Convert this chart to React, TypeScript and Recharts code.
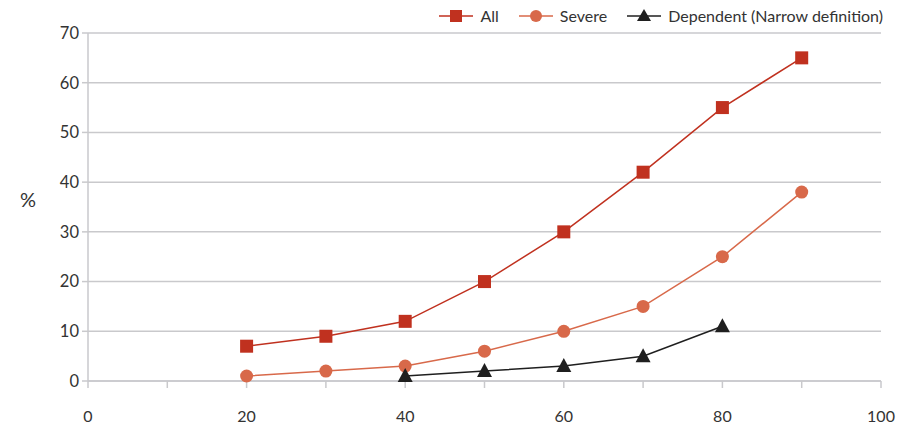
import React from 'react';
import { LineChart, Line, XAxis, YAxis, CartesianGrid, Label } from 'recharts';

const AGES = [20, 30, 40, 50, 60, 70, 80, 90];
const ALL = [7, 9, 12, 20, 30, 42, 55, 65];
const SEVERE = [1, 2, 3, 6, 10, 15, 25, 38];
const DEPENDENT = [null, null, 1, 2, 3, 5, 11, null];

const X_TICKS = [0, 10, 20, 30, 40, 50, 60, 70, 80, 90, 100];
const Y_TICKS = [0, 10, 20, 30, 40, 50, 60, 70];

const COLORS = {
  all: '#c0311f',
  severe: '#d8694a',
  dependent: '#1f1f1f',
  grid: '#c9c9cc',
  text: '#333333',
};

const FONT = 'Lato, "Noto Sans", sans-serif';

const data = AGES.map((age, i) => ({
  age,
  all: ALL[i],
  severe: SEVERE[i],
  dependent: DEPENDENT[i],
}));

const SquareDot = (props: any) => {
  const { cx, cy } = props;
  if (cx == null || cy == null) return null;
  return <rect x={cx - 6.5} y={cy - 6.5} width={13} height={13} fill={COLORS.all} />;
};

const CircleDot = (props: any) => {
  const { cx, cy } = props;
  if (cx == null || cy == null) return null;
  return <circle cx={cx} cy={cy} r={6.5} fill={COLORS.severe} />;
};

const TriangleDot = (props: any) => {
  const { cx, cy, value } = props;
  if (cx == null || cy == null || value == null) return null;
  return <path d={`M${cx},${cy - 8} L${cx + 7.5},${cy + 6} L${cx - 7.5},${cy + 6} Z`} fill={COLORS.dependent} />;
};

// labels only every 20, tick marks every 10
const XTick = (props: any) => {
  const { x, y, payload } = props;
  if (payload.value % 20 !== 0) return null;
  return (
    <text x={x} y={y} dy="0.71em" textAnchor="middle" fill={COLORS.text} fontSize={16} fontFamily={FONT}>
      {payload.value}
    </text>
  );
};

const legendItems = [
  { label: 'All', color: COLORS.all, marker: 'square' },
  { label: 'Severe', color: COLORS.severe, marker: 'circle' },
  { label: 'Dependent (Narrow definition)', color: COLORS.dependent, marker: 'triangle' },
];

function LegendIcon({ color, marker }: { color: string; marker: string }) {
  return (
    <svg width={34} height={16} style={{ marginRight: 7 }}>
      <line x1={0} y1={8} x2={34} y2={8} stroke={color} strokeWidth={1.5} />
      {marker === 'square' && <rect x={11} y={2} width={12} height={12} fill={color} />}
      {marker === 'circle' && <circle cx={17} cy={8} r={6} fill={color} />}
      {marker === 'triangle' && <path d="M17,1 L24,13 L10,13 Z" fill={color} />}
    </svg>
  );
}

export default function App() {
  return (
    <div style={{ position: 'absolute', left: 0, top: 0, width: 911, height: 426, background: '#fff' }}>
      <LineChart
        width={911}
        height={426}
        data={data}
        margin={{ top: 33, right: 30, left: 0, bottom: 0 }}
      >
        <CartesianGrid vertical={false} stroke={COLORS.grid} strokeWidth={1.5} />
        <XAxis
          dataKey="age"
          type="number"
          domain={[0, 100]}
          ticks={X_TICKS}
          interval={0}
          height={45}
          stroke={COLORS.grid}
          strokeWidth={1.5}
          tickSize={7}
          tickMargin={23}
          tick={<XTick />}
        />
        <YAxis
          type="number"
          domain={[0, 70]}
          ticks={Y_TICKS}
          interval={0}
          width={88}
          stroke={COLORS.grid}
          strokeWidth={1.5}
          tickSize={6}
          tickMargin={3}
          tick={{ fill: COLORS.text, fontSize: 16.5, fontFamily: FONT }}
        >
          <Label value="%" position="insideLeft" offset={20} dy={-7} fill={COLORS.text} fontSize={20} fontFamily={FONT} />
        </YAxis>
        <Line dataKey="all" stroke={COLORS.all} strokeWidth={1.5} dot={<SquareDot />} isAnimationActive={false} />
        <Line dataKey="severe" stroke={COLORS.severe} strokeWidth={1.5} dot={<CircleDot />} isAnimationActive={false} />
        <Line dataKey="dependent" stroke={COLORS.dependent} strokeWidth={1.5} dot={<TriangleDot />} isAnimationActive={false} />
      </LineChart>
      <div
        style={{
          position: 'absolute',
          top: 6,
          right: 28,
          display: 'flex',
          alignItems: 'center',
          fontFamily: FONT,
          fontSize: 16,
          color: COLORS.text,
        }}
      >
        {legendItems.map((it) => (
          <div key={it.label} style={{ display: 'flex', alignItems: 'center', marginLeft: 20 }}>
            <LegendIcon color={it.color} marker={it.marker} />
            <span>{it.label}</span>
          </div>
        ))}
      </div>
    </div>
  );
}
